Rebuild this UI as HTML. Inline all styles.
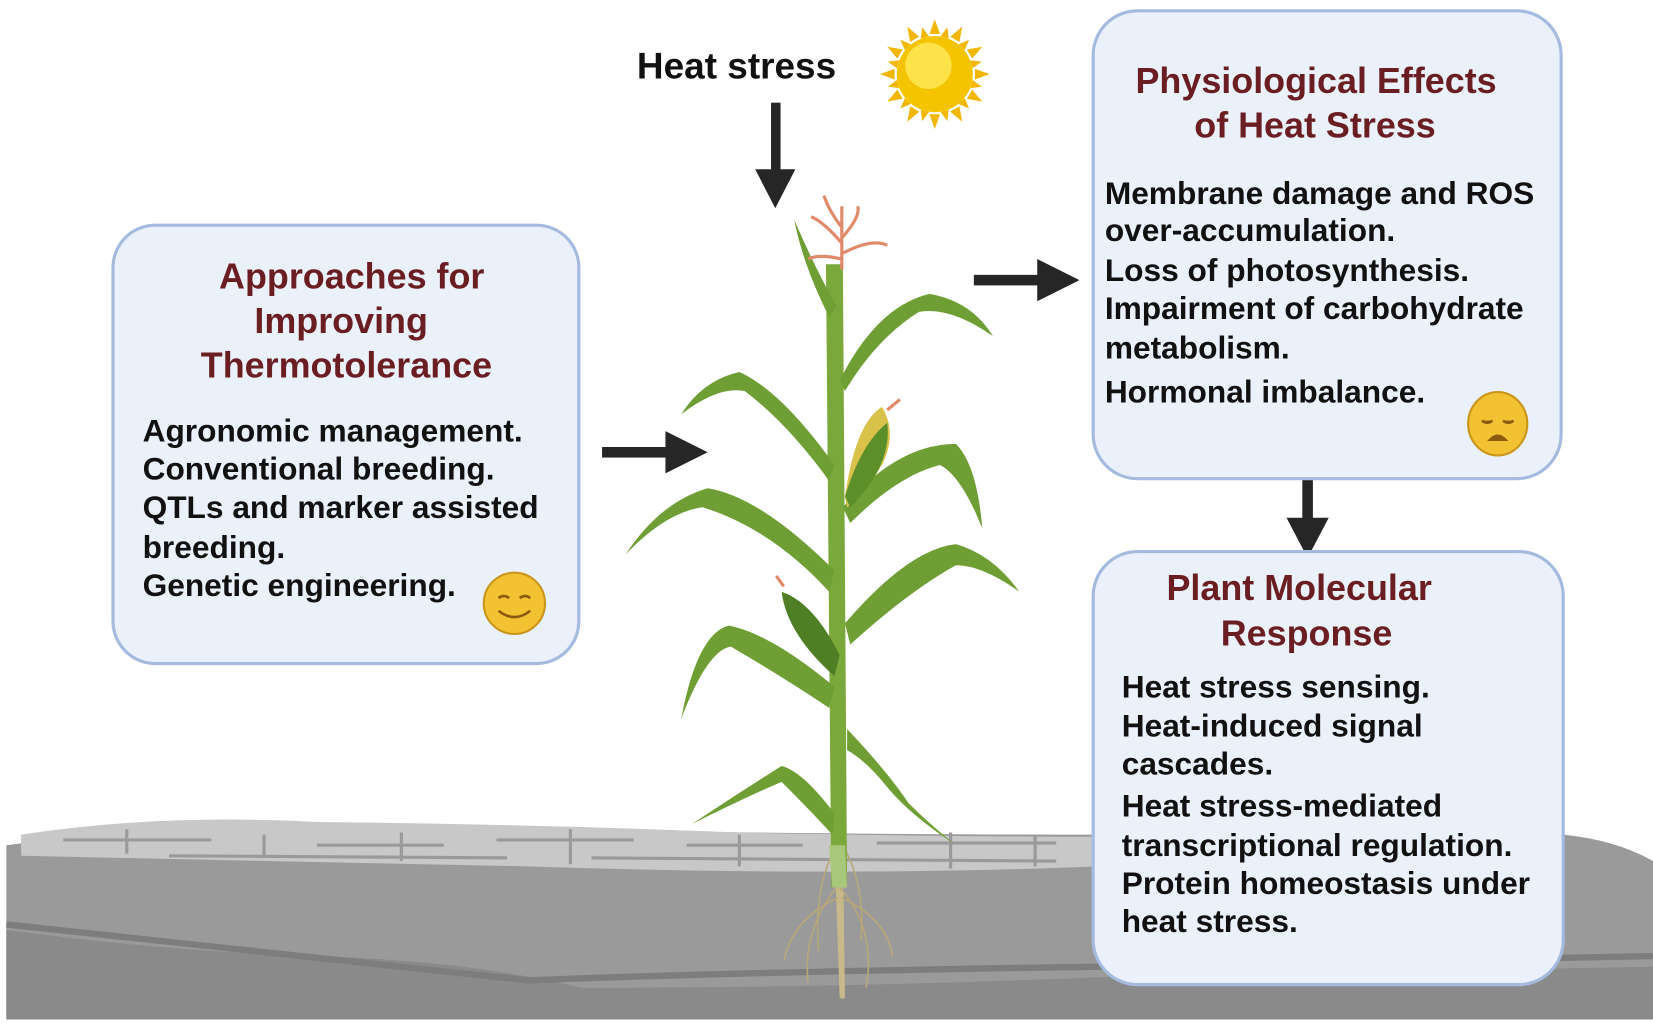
<!DOCTYPE html>
<html><head><meta charset="utf-8"><style>
html,body{margin:0;padding:0;background:#fff;}
svg{display:block}
text{font-family:"Liberation Sans",sans-serif;font-weight:bold}
.t{fill:#6b1e22;font-size:34px;text-anchor:middle}
.b{fill:#111;font-size:30px}
</style></head><body>
<svg width="1653" height="1025" viewBox="0 0 1565 970" xmlns="http://www.w3.org/2000/svg">
<!-- soil -->
<path d="M6,800 Q200,775 500,785 Q800,790 1040,790 L1480,790 Q1530,795 1565,815 L1565,965 L6,965 Z" fill="#9a9a9a"/>
<path d="M6,880 Q150,900 300,905 Q450,910 550,935 Q800,935 1040,925 L1565,915 L1565,965 L6,965 Z" fill="#8a8a8a"/>
<path d="M6,875 Q200,895 500,928 Q700,920 1040,915 L1565,905" fill="none" stroke="#7d7d7d" stroke-width="6"/>
<path d="M20,790 Q150,770 300,778 Q500,780 700,788 Q900,792 1040,792 L1040,820 Q800,830 500,820 Q250,815 20,810 Z" fill="#c8c8c8"/>
<g stroke="#9a9a9a" stroke-width="3" fill="none">
<path d="M60,795 L200,795 M120,785 L120,808 M250,790 L250,812 M300,800 L420,800 M380,788 L380,815 M470,795 L600,795 M540,785 L540,818 M650,800 L760,800 M700,790 L700,820 M830,798 L1000,798 M900,788 L900,822 M980,790 L980,820 M160,810 L480,812 M560,812 L1000,815"/>
</g>
<!-- plant -->
<g stroke-linejoin="round">
<path d="M795,945 L790,800 L798,800 L800,945 Z" fill="#c9b98a"/>
<g stroke="#b8a878" stroke-width="1.5" fill="none">
<path d="M792,840 Q760,880 765,930 M795,840 Q830,880 820,935 M793,850 Q750,870 742,910 M797,850 Q840,870 845,905 M792,800 Q770,840 775,900 M798,800 Q820,840 815,890"/>
</g>
<path d="M787,840 L782,250 L798,250 L802,840 Z" fill="#7aa83a"/>
<path d="M785,800 L800,800 L802,840 L788,840 Z" fill="#a9c77a"/>
<g fill="#6f9e34">
<path d="M785,300 Q760,250 752,208 Q770,250 792,290 Z"/>
<path d="M795,360 Q830,290 880,278 Q920,285 940,318 Q900,290 870,295 Q830,320 800,370 Z"/>
<path d="M790,440 Q740,370 700,352 Q665,360 645,392 Q680,365 705,370 Q745,400 785,455 Z"/>
<path d="M798,480 Q850,420 905,420 Q925,440 930,500 Q910,450 890,440 Q850,450 805,495 Z"/>
<path d="M790,540 Q720,470 670,462 Q625,475 592,525 Q630,485 665,480 Q730,500 785,560 Z"/>
<path d="M800,590 Q860,520 905,515 Q940,525 965,560 Q930,535 905,535 Q860,560 805,610 Z"/>
<path d="M790,650 Q730,600 690,592 Q660,600 645,680 Q670,615 692,612 Q740,640 785,670 Z"/>
<path d="M790,770 Q760,730 740,725 Q700,750 655,780 Q705,755 740,740 Q770,770 788,790 Z"/>
<path d="M802,690 Q840,730 860,760 Q880,780 905,800 Q860,770 840,745 Q820,720 802,710 Z"/>
</g>
<path d="M800,470 Q810,400 835,385 Q850,410 835,440 Q820,465 802,480 Z" fill="#d9c24a"/>
<path d="M800,470 Q815,420 840,400 Q845,440 805,480 Z" fill="#5c8f2a"/>
<path d="M790,640 Q745,600 740,560 Q770,570 795,620 Z" fill="#4e7f24"/>
<g stroke="#e08a6a" stroke-width="3" fill="none">
<path d="M797,255 L797,195 M797,230 Q780,210 768,205 M797,225 Q815,205 812,195 M797,240 Q825,225 840,232 M797,245 Q775,240 765,245 M797,215 Q785,200 780,185"/>
<path d="M840,388 L852,378 M742,555 L735,545"/>
</g>
</g>
<!-- arrows -->
<g fill="#262626">
<rect x="730" y="97" width="9" height="66"/><polygon points="715,160 753,160 734,197"/>
<rect x="570" y="423" width="62" height="10"/><polygon points="630,408 630,448 670,428"/>
<rect x="922" y="260" width="62" height="10"/><polygon points="982,245 982,285 1022,265"/>
<rect x="1233" y="428" width="10" height="64"/><polygon points="1218,490 1258,490 1238,528"/>
</g>
<!-- sun -->
<g transform="translate(885,70)">
<g fill="#f2b705">
<polygon points="0,-52 5,-38 -5,-38" /><polygon points="0,52 5,38 -5,38"/>
<polygon points="-52,0 -38,5 -38,-5"/><polygon points="52,0 38,5 38,-5"/>
<g transform="rotate(30)"><polygon points="0,-52 5,-38 -5,-38"/><polygon points="0,52 5,38 -5,38"/><polygon points="-52,0 -38,5 -38,-5"/><polygon points="52,0 38,5 38,-5"/></g>
<g transform="rotate(60)"><polygon points="0,-52 5,-38 -5,-38"/><polygon points="0,52 5,38 -5,38"/><polygon points="-52,0 -38,5 -38,-5"/><polygon points="52,0 38,5 38,-5"/></g>
<g transform="rotate(15)"><polygon points="0,-46 4,-36 -4,-36"/><polygon points="0,46 4,36 -4,36"/><polygon points="-46,0 -36,4 -36,-4"/><polygon points="46,0 36,4 36,-4"/></g>
<g transform="rotate(45)"><polygon points="0,-46 4,-36 -4,-36"/><polygon points="0,46 4,36 -4,36"/><polygon points="-46,0 -36,4 -36,-4"/><polygon points="46,0 36,4 36,-4"/></g>
<g transform="rotate(75)"><polygon points="0,-46 4,-36 -4,-36"/><polygon points="0,46 4,36 -4,36"/><polygon points="-46,0 -36,4 -36,-4"/><polygon points="46,0 36,4 36,-4"/></g>
</g>
<circle r="36" fill="#f5c400"/><circle cx="-6" cy="-8" r="22" fill="#fde24a"/>
</g>
<text x="603" y="74" font-size="35" fill="#111">Heat stress</text>
<!-- left box -->
<rect x="107" y="213" width="441" height="415" rx="40" fill="#eaf1fb" stroke="#a5badf" stroke-width="3"/>
<text class="t" x="333" y="273">Approaches for</text>
<text class="t" x="323" y="315">Improving</text>
<text class="t" x="328" y="357">Thermotolerance</text>
<text class="b" x="135" y="418">Agronomic management.</text>
<text class="b" x="135" y="454">Conventional breeding.</text>
<text class="b" x="135" y="490">QTLs and marker assisted</text>
<text class="b" x="135" y="528">breeding.</text>
<text class="b" x="135" y="564">Genetic engineering.</text>
<circle cx="487" cy="571" r="29" fill="#f2c232" stroke="#c9961a" stroke-width="2"/>
<path d="M472,566 q5,-4 10,0 M492,566 q5,-4 10,0 M472,578 q15,12 30,0" stroke="#8a5a10" stroke-width="2.5" fill="none"/>
<!-- right top box -->
<rect x="1035" y="10" width="443" height="443" rx="42" fill="#eaf1fb" stroke="#a5badf" stroke-width="3"/>
<text class="t" x="1246" y="88">Physiological Effects</text>
<text class="t" x="1245" y="130">of Heat Stress</text>
<text class="b" x="1046" y="193">Membrane damage and ROS</text>
<text class="b" x="1046" y="228">over-accumulation.</text>
<text class="b" x="1046" y="266">Loss of photosynthesis.</text>
<text class="b" x="1046" y="302">Impairment of carbohydrate</text>
<text class="b" x="1046" y="339">metabolism.</text>
<text class="b" x="1046" y="381">Hormonal imbalance.</text>
<ellipse cx="1418" cy="401" rx="28" ry="30" fill="#f2c232" stroke="#c9961a" stroke-width="2"/>
<path d="M1403,398 q5,4 10,0 M1423,398 q5,4 10,0 M1411,416 q7,-7 14,0 Z" stroke="#8a5a10" stroke-width="2.5" fill="#8a5a10"/>
<!-- bottom box -->
<rect x="1035" y="522" width="445" height="410" rx="42" fill="#eaf1fb" stroke="#a5badf" stroke-width="3"/>
<text class="t" x="1230" y="568">Plant Molecular</text>
<text class="t" x="1237" y="611">Response</text>
<text class="b" x="1062" y="660">Heat stress sensing.</text>
<text class="b" x="1062" y="697">Heat-induced signal</text>
<text class="b" x="1062" y="733">cascades.</text>
<text class="b" x="1062" y="773">Heat stress-mediated</text>
<text class="b" x="1062" y="810">transcriptional regulation.</text>
<text class="b" x="1062" y="846">Protein homeostasis under</text>
<text class="b" x="1062" y="882">heat stress.</text>
</svg>
</body></html>
